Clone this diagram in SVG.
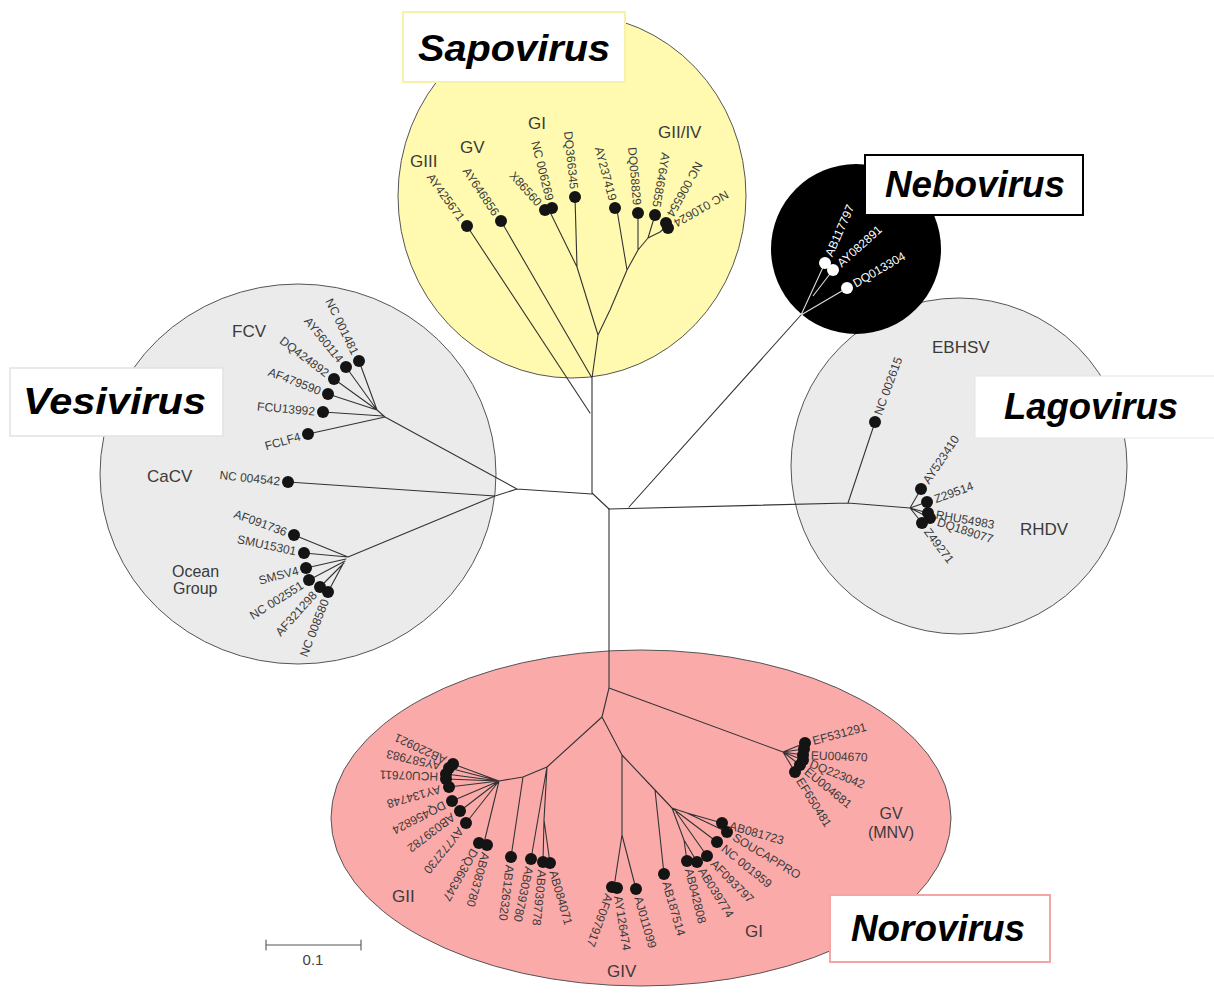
<svg xmlns="http://www.w3.org/2000/svg" width="1214" height="994" viewBox="0 0 1214 994">
<style>
.br{stroke:#333;stroke-width:1.1;fill:none;stroke-linecap:round;stroke-linejoin:round}
.wbr{stroke:#ddd;stroke-width:1.1;fill:none}
.lf{font-family:"Liberation Sans",Arial,sans-serif;font-size:12px;fill:#3a3a3a}
.wl{fill:#fff}
.gl{font-family:"Liberation Sans",Arial,sans-serif;font-size:17px;fill:#3a3a3a}
.gs{font-size:16px}
.dot{fill:#141414}
.wdot{fill:#fff}
.ttl{font-family:"Liberation Sans",Arial,sans-serif;font-weight:bold;font-style:italic;font-size:36px;fill:#000}
.area{stroke:#555;stroke-width:1}
</style>
<rect width="1214" height="994" fill="#fff"/>

<g id="clade-areas">
<ellipse cx="572" cy="196" rx="174" ry="182" fill="#fffaaf" class="area"/>
<ellipse cx="298" cy="474" rx="198" ry="190" fill="#ebebeb" class="area"/>
<circle cx="959" cy="466" r="168" fill="#ebebeb" class="area"/>
<ellipse cx="641" cy="818" rx="310" ry="168" fill="#fbaaaa" class="area"/>
<circle cx="856" cy="249" r="85" fill="#000"/>
</g>

<g id="connectors">
<path class="br" d="M467,226L590,413 M501,221L592,378 M550,212L577,267L598,335 M575,197L577,267 M617,210L627,270 M638,213L638,250 M655,215L648,238 M667,226L660,232 M660,232L648,238L638,250L627,270L610,310L598,335L592,378L592,493L609,509"/>
<path class="br" d="M517,489L592,494 M517,489L385,417 M308,434L385,417 M323,412L383,416 M385,417L377,410 M328,394L377,410 M334,379L377,410 M346,367L377,410 M359,361L377,410 M517,489L495,496 M288,482L495,496 M495,496L348,557 M294,535L348,557 M304,553L348,557 M306,568L346,559 M309,580L345,561 M320,587L344,563 M328,592L343,564"/>
<path class="br" d="M609,509L848,503 M848,503L875,422 M848,503L910,508 M910,508L921,489 M910,508L927,502 M910,508L928,513 M910,508L930,518 M910,508L922,523"/>
<path class="br" d="M629,507L801,315"/>
<path class="wbr" d="M801,315L825,263 M813,296L833,270 M801,315L847,288"/>
<path class="br" d="M609,509L609,688 M609,688L783,752 M783,752L805,743 M783,752L804,749 M783,752L803,755 M783,752L803,760 M783,752L800,765 M783,752L795,772 M609,688L602,717 M602,717L547,767L523,777L499,781 M499,781L453,764 M499,781L449,768 M499,781L446,774 M499,781L446,779 M499,781L449,787 M499,781L452,801 M499,781L460,811 M499,781L466,823 M499,781L484,843 M523,777L511,857 M547,767L531,859 M547,767L544,820L543,862 M544,820L550,863 M602,717L622,755L622,835 M622,835L614,887 M622,835L636,889 M622,755L655,790L672,808 M655,790L664,874 M672,808L687,813L722,823 M687,813L727,832 M672,808L717,842 M676,812L707,856 M672,808L684,840L687,861 M684,840L697,862"/>
<path class="br" style="stroke:#555" d="M266,945L361,945 M266,940L266,950 M361,940L361,950"/>
</g>

<g id="sapovirus">
<text class="gl" x="410" y="167">GIII</text>
<text class="gl" x="460" y="153">GV</text>
<text class="gl" x="528" y="129">GI</text>
<text class="gl" x="658" y="138">GII/IV</text>
<circle class="dot" cx="467" cy="226" r="6"/>
<circle class="dot" cx="501" cy="221" r="6"/>
<circle class="dot" cx="545" cy="210" r="6"/>
<circle class="dot" cx="552" cy="208" r="6"/>
<circle class="dot" cx="575" cy="197" r="6"/>
<circle class="dot" cx="615" cy="208" r="6"/>
<circle class="dot" cx="638" cy="213" r="6"/>
<circle class="dot" cx="655" cy="215" r="6"/>
<circle class="dot" cx="666" cy="223" r="6"/>
<circle class="dot" cx="668" cy="228" r="6"/>
<text class="lf" text-anchor="end" dy=".35em" transform="translate(462 219.5) rotate(54)">AY425671</text>
<text class="lf" text-anchor="end" dy=".35em" transform="translate(496.5 214.4) rotate(56)">AY646856</text>
<text class="lf" text-anchor="end" dy=".35em" transform="translate(539.6 204.1) rotate(48)">X86560</text>
<text class="lf" text-anchor="end" dy=".35em" transform="translate(550 200.2) rotate(76)">NC 006269</text>
<text class="lf" text-anchor="end" dy=".35em" transform="translate(574.2 189) rotate(84)">DQ366345</text>
<text class="lf" text-anchor="end" dy=".35em" transform="translate(613 200.3) rotate(75)">AY237419</text>
<text class="lf" text-anchor="end" dy=".35em" transform="translate(637.3 205) rotate(85)">DQ058829</text>
<text class="lf" text-anchor="end" dy=".35em" transform="translate(656.4 207.1) rotate(100)">AY646855</text>
<text class="lf" text-anchor="end" dy=".35em" transform="translate(669.9 216) rotate(119)">NC 006554</text>
<text class="lf" text-anchor="end" dy=".35em" transform="translate(674.9 224) rotate(150)">NC 010624</text>
</g>

<g id="nebovirus">
<circle class="wdot" cx="825" cy="263" r="6"/>
<circle class="wdot" cx="833" cy="270" r="6"/>
<circle class="wdot" cx="847" cy="288" r="6"/>
<text class="lf wl" dy=".35em" transform="translate(828.3 255.7) rotate(-66)">AB117797</text>
<text class="lf wl" dy=".35em" transform="translate(839 264.6) rotate(-42)">AY082891</text>
<text class="lf wl" dy=".35em" transform="translate(853.9 284) rotate(-30)">DQ013304</text>
</g>

<g id="vesivirus">
<text class="gl" x="232" y="337">FCV</text>
<text class="gl" x="147" y="482">CaCV</text>
<text class="gl gs" x="172" y="577">Ocean</text>
<text class="gl gs" x="173" y="594">Group</text>
<circle class="dot" cx="359" cy="361" r="6"/>
<circle class="dot" cx="346" cy="367" r="6"/>
<circle class="dot" cx="334" cy="379" r="6"/>
<circle class="dot" cx="328" cy="394" r="6"/>
<circle class="dot" cx="323" cy="412" r="6"/>
<circle class="dot" cx="308" cy="434" r="6"/>
<circle class="dot" cx="288" cy="482" r="6"/>
<circle class="dot" cx="294" cy="535" r="6"/>
<circle class="dot" cx="304" cy="553" r="6"/>
<circle class="dot" cx="306" cy="568" r="6"/>
<circle class="dot" cx="309" cy="580" r="6"/>
<circle class="dot" cx="320" cy="587" r="6"/>
<circle class="dot" cx="328" cy="592" r="6"/>
<text class="lf" text-anchor="end" dy=".35em" transform="translate(355.5 353.8) rotate(64)">NC 001481</text>
<text class="lf" text-anchor="end" dy=".35em" transform="translate(341 360.8) rotate(51)">AY560114</text>
<text class="lf" text-anchor="end" dy=".35em" transform="translate(327.6 374.2) rotate(37)">DQ424892</text>
<text class="lf" text-anchor="end" dy=".35em" transform="translate(320.5 391.1) rotate(21)">AF479590</text>
<text class="lf" text-anchor="end" dy=".35em" transform="translate(315 411.3) rotate(5)">FCU13992</text>
<text class="lf" text-anchor="end" dy=".35em" transform="translate(300.3 436.2) rotate(-16)">FCLF4</text>
<text class="lf" text-anchor="end" dy=".35em" transform="translate(280 481.2) rotate(6)">NC 004542</text>
<text class="lf" text-anchor="end" dy=".35em" transform="translate(286.5 532.3) rotate(20)">AF091736</text>
<text class="lf" text-anchor="end" dy=".35em" transform="translate(296.2 551.3) rotate(12)">SMU15301</text>
<text class="lf" text-anchor="end" dy=".35em" transform="translate(298.3 570.1) rotate(-15)">SMSV4</text>
<text class="lf" text-anchor="end" dy=".35em" transform="translate(302.2 584.2) rotate(-32)">NC 002551</text>
<text class="lf" text-anchor="end" dy=".35em" transform="translate(314.6 592.9) rotate(-48)">AF321298</text>
<text class="lf" text-anchor="end" dy=".35em" transform="translate(325.1 599.5) rotate(-69)">NC 008580</text>
</g>

<g id="lagovirus">
<text class="gl" x="932" y="353">EBHSV</text>
<text class="gl" x="1020" y="535">RHDV</text>
<circle class="dot" cx="875" cy="422" r="6"/>
<circle class="dot" cx="921" cy="489" r="6"/>
<circle class="dot" cx="927" cy="502" r="6"/>
<circle class="dot" cx="928" cy="513" r="6"/>
<circle class="dot" cx="930" cy="518" r="6"/>
<circle class="dot" cx="922" cy="523" r="6"/>
<text class="lf" dy=".35em" transform="translate(877.7 414.5) rotate(-70)">NC 002615</text>
<text class="lf" dy=".35em" transform="translate(925.5 482.4) rotate(-56)">AY523410</text>
<text class="lf" dy=".35em" transform="translate(934.5 499.3) rotate(-20)">Z29514</text>
<text class="lf" dy=".35em" transform="translate(935.9 514.4) rotate(10)">RHU54983</text>
<text class="lf" dy=".35em" transform="translate(937.6 521.5) rotate(18)">DQ189077</text>
<text class="lf" dy=".35em" transform="translate(926.8 529.4) rotate(53)">Z49271</text>
</g>

<g id="norovirus">
<text class="gl" x="392" y="902">GII</text>
<text class="gl" x="607" y="977">GIV</text>
<text class="gl" x="745" y="937">GI</text>
<text class="gl gs" x="891" y="819" text-anchor="middle">GV</text>
<text class="gl gs" x="891" y="838" text-anchor="middle">(MNV)</text>
<circle class="dot" cx="453" cy="764" r="6"/>
<circle class="dot" cx="449" cy="768" r="6"/>
<circle class="dot" cx="446" cy="774" r="6"/>
<circle class="dot" cx="446" cy="779" r="6"/>
<circle class="dot" cx="449" cy="787" r="6"/>
<circle class="dot" cx="452" cy="801" r="6"/>
<circle class="dot" cx="460" cy="811" r="6"/>
<circle class="dot" cx="466" cy="823" r="6"/>
<circle class="dot" cx="479" cy="843" r="6"/>
<circle class="dot" cx="487" cy="845" r="6"/>
<circle class="dot" cx="511" cy="857" r="6"/>
<circle class="dot" cx="531" cy="859" r="6"/>
<circle class="dot" cx="543" cy="862" r="6"/>
<circle class="dot" cx="550" cy="863" r="6"/>
<circle class="dot" cx="612" cy="887" r="6"/>
<circle class="dot" cx="617" cy="888" r="6"/>
<circle class="dot" cx="636" cy="889" r="6"/>
<circle class="dot" cx="664" cy="874" r="6"/>
<circle class="dot" cx="687" cy="861" r="6"/>
<circle class="dot" cx="697" cy="862" r="6"/>
<circle class="dot" cx="707" cy="856" r="6"/>
<circle class="dot" cx="717" cy="842" r="6"/>
<circle class="dot" cx="722" cy="823" r="6"/>
<circle class="dot" cx="727" cy="832" r="6"/>
<circle class="dot" cx="805" cy="743" r="6"/>
<circle class="dot" cx="804" cy="749" r="6"/>
<circle class="dot" cx="803" cy="755" r="6"/>
<circle class="dot" cx="803" cy="760" r="6"/>
<circle class="dot" cx="800" cy="765" r="6"/>
<circle class="dot" cx="795" cy="772" r="6"/>
<text class="lf" dy=".35em" transform="translate(445.8 760.6) rotate(205)">AB220921</text>
<text class="lf" dy=".35em" transform="translate(440.2 766.2) rotate(193)">AY587983</text>
<text class="lf" dy=".35em" transform="translate(438 776.7) rotate(182)">HCU07611</text>
<text class="lf" dy=".35em" transform="translate(440.3 789.2) rotate(164)">AY134748</text>
<text class="lf" dy=".35em" transform="translate(444.9 804.6) rotate(153)">DQ456824</text>
<text class="lf" dy=".35em" transform="translate(453.6 815.8) rotate(143)">AB039782</text>
<text class="lf" dy=".35em" transform="translate(461 829.2) rotate(129)">AY772730</text>
<text class="lf" dy=".35em" transform="translate(475 849.9) rotate(120)">DQ366347</text>
<text class="lf" dy=".35em" transform="translate(485.8 852.7) rotate(106)">AB083780</text>
<text class="lf" dy=".35em" transform="translate(510 864.9) rotate(97)">AB126320</text>
<text class="lf" dy=".35em" transform="translate(529.3 866.8) rotate(102)">AB039780</text>
<text class="lf" dy=".35em" transform="translate(542.3 869.9) rotate(96)">AB039778</text>
<text class="lf" dy=".35em" transform="translate(553.2 870.7) rotate(74)">AB084071</text>
<text class="lf" dy=".35em" transform="translate(609.3 894.5) rotate(110)">AF097917</text>
<text class="lf" dy=".35em" transform="translate(618.2 895.9) rotate(81)">AY126474</text>
<text class="lf" dy=".35em" transform="translate(638.2 896.7) rotate(74)">AJ011099</text>
<text class="lf" dy=".35em" transform="translate(666.2 881.7) rotate(74)">AB187514</text>
<text class="lf" dy=".35em" transform="translate(688.9 868.8) rotate(76)">AB042808</text>
<text class="lf" dy=".35em" transform="translate(701.2 868.8) rotate(58)">AB039774</text>
<text class="lf" dy=".35em" transform="translate(712.7 861.7) rotate(45)">AF093797</text>
<text class="lf" dy=".35em" transform="translate(723.2 847) rotate(39)">NC 001959</text>
<text class="lf" dy=".35em" transform="translate(733.9 836.1) rotate(31)">SOUCAPPRO</text>
<text class="lf" dy=".35em" transform="translate(729.7 825.2) rotate(16)">AB081723</text>
<text class="lf" dy=".35em" transform="translate(812.7 740.9) rotate(-15)">EF531291</text>
<text class="lf" dy=".35em" transform="translate(811 755.3) rotate(2)">EU004670</text>
<text class="lf" dy=".35em" transform="translate(810.4 763) rotate(22)">DQ223042</text>
<text class="lf" dy=".35em" transform="translate(806.2 770) rotate(39)">EU004681</text>
<text class="lf" dy=".35em" transform="translate(799.2 778.8) rotate(58)">EF650481</text>
</g>

<g id="scale-bar">
<text x="313" y="965" text-anchor="middle" style="font-family:'Liberation Sans',Arial,sans-serif;font-size:15px;fill:#444">0.1</text>
</g>

<g id="title-sapovirus">
<rect x="403" y="12" width="222" height="70" fill="#fff" stroke="#f7f2a8" stroke-width="2"/>
<text class="ttl" x="418" y="61" textLength="192" lengthAdjust="spacingAndGlyphs">Sapovirus</text>
</g>
<g id="title-nebovirus">
<rect x="865" y="155" width="218" height="60" fill="#fff" stroke="#000" stroke-width="2"/>
<text class="ttl" x="885" y="197" textLength="180" lengthAdjust="spacingAndGlyphs">Nebovirus</text>
</g>
<g id="title-vesivirus">
<rect x="10" y="368" width="213" height="68" fill="#fff" stroke="#e2e2e2" stroke-width="1.5"/>
<text class="ttl" x="23" y="414" textLength="183" lengthAdjust="spacingAndGlyphs">Vesivirus</text>
</g>
<g id="title-lagovirus">
<rect x="975" y="376" width="245" height="62" fill="#fff" stroke="#e6e6e6" stroke-width="1"/>
<text class="ttl" x="1004" y="419" textLength="174" lengthAdjust="spacingAndGlyphs">Lagovirus</text>
</g>
<g id="title-norovirus">
<rect x="830" y="895" width="220" height="67" fill="#fff" stroke="#f4a6a6" stroke-width="2"/>
<text class="ttl" x="851" y="941" textLength="174" lengthAdjust="spacingAndGlyphs">Norovirus</text>
</g>
</svg>
